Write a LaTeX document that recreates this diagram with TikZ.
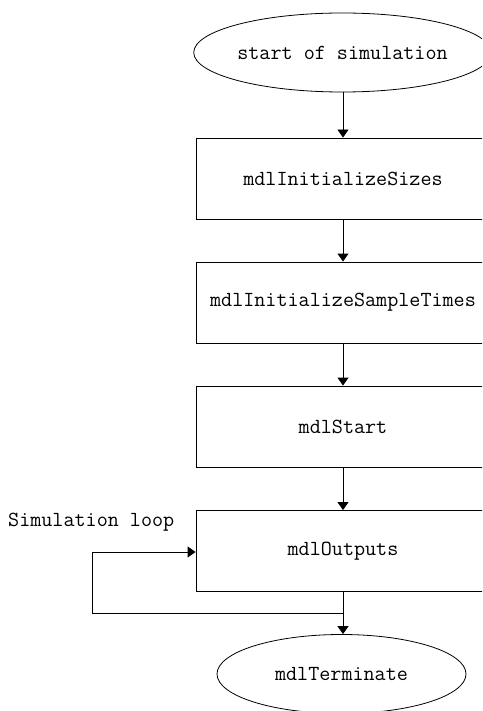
\documentclass[tikz,border=0pt]{standalone}
\usetikzlibrary{arrows.meta,shapes.geometric}
\begin{document}
\begin{tikzpicture}[x=1pt,y=-1pt,
  every node/.style={font=\ttfamily\fontsize{21.5}{23}\selectfont, inner sep=0pt},
  stepbox/.style={draw, line width=0.9pt, minimum width=294pt, minimum height=81pt},
  terminal/.style={draw, ellipse, line width=0.8pt, minimum width=249pt, minimum height=79pt},
  flow/.style={line width=0.9pt, -{Triangle[length=8pt,width=11pt]}},
  wire/.style={line width=0.9pt}]
\clip (0,0) rectangle (482,711);
\fill[white] (0,0) rectangle (482,711);

\node[terminal] (start) at (342.5,52.5) {start of simulation};
\node[stepbox] (sizes) at (343,178.5) {mdlInitializeSizes};
\node[stepbox] (times) at (343,302.5) {mdlInitializeSampleTimes};
\node[stepbox] (mstart) at (343,426.5) {mdlStart};
\node[stepbox] (outputs) at (343,551) {mdlOutputs};
\node[terminal] (term) at (341.5,674) {mdlTerminate};
\node[anchor=west] (looplbl) at (8,522) {Simulation loop};

\coordinate (split) at (343,613);
\coordinate (loopbl) at (92,613);
\coordinate (looptl) at (92,552);

\draw[flow] (start.south -| sizes.north) -- (sizes.north);
\draw[flow] (sizes.south) -- (times.north);
\draw[flow] (times.south) -- (mstart.north);
\draw[flow] (mstart.south) -- (outputs.north);
\draw[wire] (outputs.south) -- (split);
\draw[flow] (split) -- (term.north -| split);
\draw[flow] (split) -- (loopbl) -- (looptl) -- (looptl -| outputs.west);
\end{tikzpicture}
\end{document}
